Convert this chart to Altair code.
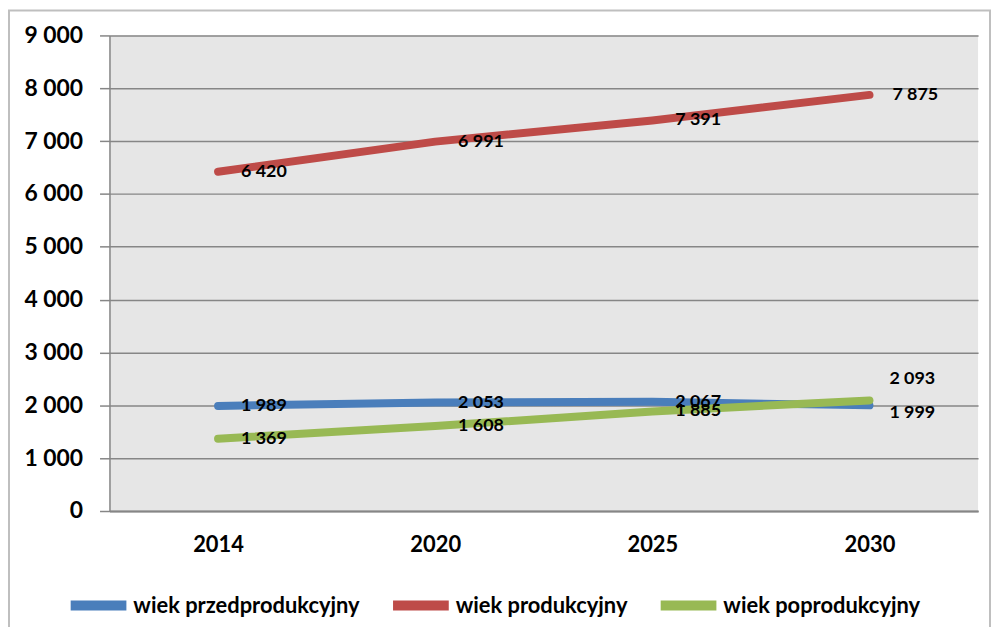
import altair as alt
import pandas as pd

years = ["2014", "2020", "2025", "2030"]
series_names = ["wiek przedprodukcyjny", "wiek produkcyjny", "wiek poprodukcyjny"]
przed = [1989, 2053, 2067, 1999]
prod = [6420, 6991, 7391, 7875]
popr = [1369, 1608, 1885, 2093]
colors = ["#4A7EBB", "#BE4B48", "#98B954"]
y_ticks = [0, 1000, 2000, 3000, 4000, 5000, 6000, 7000, 8000, 9000]

rows = []
for name, vals in zip(series_names, [przed, prod, popr]):
    for y, v in zip(years, vals):
        rows.append({"year": y, "series": name, "value": v})
df = pd.DataFrame(rows)

FONT = "Lato"
fmt_expr = "replace(format(datum.value, ','), ',', ' ')"

x_enc = alt.X("year:O", scale=alt.Scale(type="point", padding=0.5), title=None,
              axis=alt.Axis(labelAngle=0, ticks=False, domain=True, domainColor="#868686",
                            domainWidth=2, labelFontSize=22, labelFontWeight="bold",
                            labelColor="#000000", labelPadding=24, grid=False, labelFont=FONT))
y_enc = alt.Y("value:Q", scale=alt.Scale(domain=[0, 9000], nice=False), title=None,
              axis=alt.Axis(values=y_ticks, labelExpr=fmt_expr, grid=True, gridColor="#868686",
                            gridWidth=1.5, tickSize=10, tickColor="#868686", tickWidth=1.5,
                            domain=True, domainColor="#868686", domainWidth=1.5,
                            labelFontSize=23, labelFontWeight="bold", labelColor="#000000",
                            labelPadding=17, labelFont=FONT))
color_enc = alt.Color("series:N", scale=alt.Scale(domain=series_names, range=colors),
                      sort=series_names,
                      legend=alt.Legend(title=None, orient="none", legendX=-44, legendY=540,
                                        direction="horizontal", symbolType="stroke",
                                        symbolStrokeWidth=10, symbolSize=3136,
                                        labelFontSize=22, labelFont=FONT, labelColor="#000000",
                                        labelFontWeight="bold", labelLimit=400,
                                        labelOffset=2, columnPadding=13))

base = alt.Chart(df)

lines = base.mark_line(strokeWidth=8, strokeCap="round", strokeJoin="round").encode(
    x=x_enc, y=y_enc, color=color_enc, order=alt.Order("year:O"))

txt_common = dict(align="left", baseline="middle", fontSize=18, fontWeight="bold",
                  font=FONT, color="#000000")

labels_main = base.transform_filter(
    "!(datum.year == '2030' && datum.series != 'wiek produkcyjny')"
).transform_calculate(lbl=fmt_expr).mark_text(dx=23, **txt_common).encode(
    x=alt.X("year:O"), y=alt.Y("value:Q"), text="lbl:N")

labels_blue_end = base.transform_filter(
    "datum.year == '2030' && datum.series == 'wiek przedprodukcyjny'"
).transform_calculate(lbl=fmt_expr).mark_text(dx=20, dy=8, **txt_common).encode(
    x=alt.X("year:O"), y=alt.Y("value:Q"), text="lbl:N")

labels_green_end = base.transform_filter(
    "datum.year == '2030' && datum.series == 'wiek poprodukcyjny'"
).transform_calculate(lbl=fmt_expr).mark_text(dx=20, dy=-22, **txt_common).encode(
    x=alt.X("year:O"), y=alt.Y("value:Q"), text="lbl:N")

border = alt.Chart(alt.Data(values=[{"a": 1}])).mark_rect(
    fill=None, stroke="#BFBFBF", strokeWidth=2, clip=False
).encode(x=alt.value(-101), x2=alt.value(885), y=alt.value(-25), y2=alt.value(640))

chart = alt.layer(border, lines, labels_main, labels_blue_end, labels_green_end).properties(
    width=873, height=478,
    autosize=alt.AutoSizeParams(type="none"),
    padding={"left": 102, "top": 26, "right": 14, "bottom": 115},
    background="#FFFFFF",
).configure_view(fill="#E6E6E6", stroke=None)

chart.save("out.html", embed_options={"renderer": "svg", "actions": False})
